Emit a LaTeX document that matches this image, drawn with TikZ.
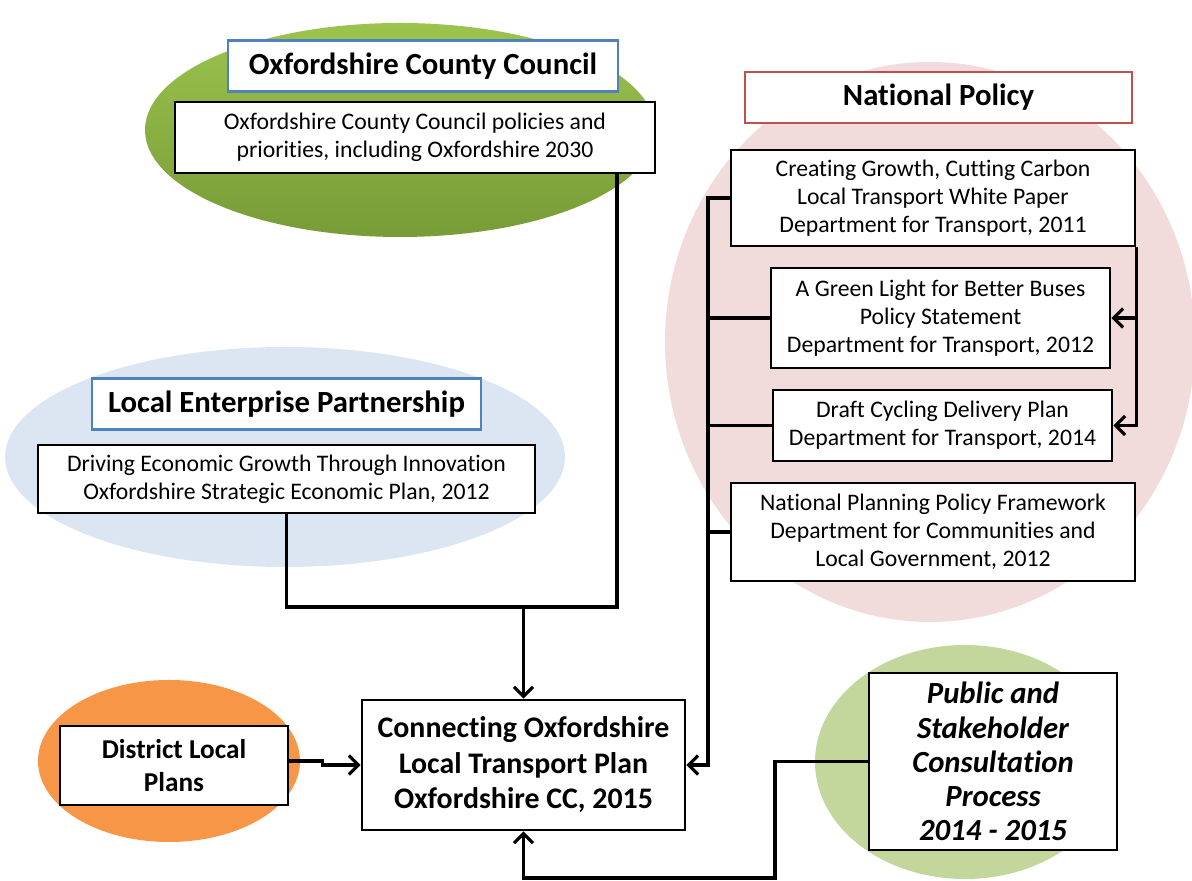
\documentclass[tikz,border=0pt]{standalone}
\usepackage{fontspec}
\setmainfont{Carlito}[Ligatures=NoCommon]
\usetikzlibrary{arrows.meta}

\definecolor{occgreen}{RGB}{120,155,55}
\definecolor{occlight}{RGB}{155,196,78}
\definecolor{lepblue}{RGB}{220,230,242}
\definecolor{dlporange}{RGB}{247,150,70}
\definecolor{nppink}{RGB}{242,220,219}
\definecolor{pcpgreen}{RGB}{195,214,155}
\definecolor{titleblue}{RGB}{79,129,189}
\definecolor{titlered}{RGB}{192,80,77}

\begin{document}
\begin{tikzpicture}[
    doc/.style={draw=black, line width=1.5pt, fill=white, align=center, inner sep=2pt,
        font=\fontsize{13.5}{16}\selectfont},
    head/.style={draw, line width=1.2pt, fill=white, minimum height=1.02cm,
        font=\fontsize{17.5}{20}\selectfont\bfseries},
    plan/.style={doc, font=\fontsize{17}{20.2}\selectfont\bfseries},
    link/.style={line width=1.8pt},
    arr/.style={link, -{Straight Barb[length=1.9mm, width=3.8mm]}}
]
    \useasboundingbox (0,0) rectangle (23.84,17.62);

    % background ellipses
    \shade[top color=occlight, bottom color=occgreen] (8.0,15.02) ellipse (5.1 and 2.14);
    \fill[lepblue] (5.7,8.48) ellipse (5.6 and 2.2);
    \fill[dlporange] (3.38,2.4) ellipse (2.62 and 1.62);
    \fill[nppink] (18.6,10.78) ellipse (5.3 and 5.6);
    \fill[pcpgreen] (19.3,2.38) ellipse (3.0 and 2.34);

    % county council
    \node[head, draw=titleblue, minimum width=7.8cm] (occt) at (8.46,16.30) {Oxfordshire County Council};
    \node[doc, minimum width=9.6cm, minimum height=1.42cm] (occ) at (8.3,14.87)
        {Oxfordshire County Council policies and\\priorities, including Oxfordshire 2030};

    % enterprise partnership
    \node[head, draw=titleblue, minimum width=7.78cm] (lept) at (5.73,9.54) {Local Enterprise Partnership};
    \node[doc, minimum width=9.94cm, minimum height=1.36cm] (lep) at (5.73,8.04)
        {Driving Economic Growth Through Innovation\\Oxfordshire Strategic Economic Plan, 2012};

    % national policy
    \node[head, draw=titlered, minimum width=7.74cm] (npt) at (18.77,15.67) {National Policy};
    \node[doc, minimum width=8.08cm, minimum height=1.92cm] (np1) at (18.66,13.66)
        {Creating Growth, Cutting Carbon\\Local Transport White Paper\\Department for Transport, 2011};
    \node[doc, minimum width=6.78cm, minimum height=2.0cm] (np2) at (18.81,11.26)
        {A Green Light for Better Buses\\Policy Statement\\Department for Transport, 2012};
    \node[doc, minimum width=6.78cm, minimum height=1.42cm] (np3) at (18.85,9.11)
        {Draft Cycling Delivery Plan\\Department for Transport, 2014};
    \node[doc, minimum width=8.08cm, minimum height=1.96cm] (np4) at (18.66,6.98)
        {National Planning Policy Framework\\Department for Communities and\\Local Government, 2012};

    % bottom row
    \node[plan, minimum width=6.46cm, minimum height=2.6cm] (ltp) at (10.47,2.32)
        {Connecting Oxfordshire\\Local Transport Plan\\Oxfordshire CC, 2015};
    \node[doc, minimum width=4.56cm, minimum height=1.58cm, font=\fontsize{15.5}{19}\selectfont\bfseries]
        (dlp) at (3.48,2.31) {District Local\\Plans};
    \node[doc, minimum width=4.96cm, minimum height=3.54cm, font=\fontsize{17.5}{19.4}\selectfont\bfseries\itshape]
        (pcp) at (19.86,2.39) {Public and\\Stakeholder\\Consultation\\Process\\2014 - 2015};

    % connectors
    \coordinate (merge) at (12.34,5.48);
    \draw[link] (lep.south) |- (merge) -- (merge |- occ.south);
    \draw[arr] (ltp.north |- merge) -- (ltp.north);
    \draw[arr] ([yshift=0.09cm]dlp.east) -- ++(0.66,0) |- (ltp.west);

    \coordinate (bus) at (14.16,0);
    \draw[arr] (np1.west) -| (bus |- ltp.east) -- (ltp.east);
    \foreach \n in {np2,np3,np4}
        \draw[link] (\n.west) -- (\n.west -| bus);
    \draw[arr] (np1.south east) |- (np2.east);
    \draw[arr] (np1.south east) |- (np3.east);

    \coordinate (low) at (15.5,0.06);
    \draw[arr] (pcp.west) -| (low) -| (ltp.south);
\end{tikzpicture}
\end{document}
